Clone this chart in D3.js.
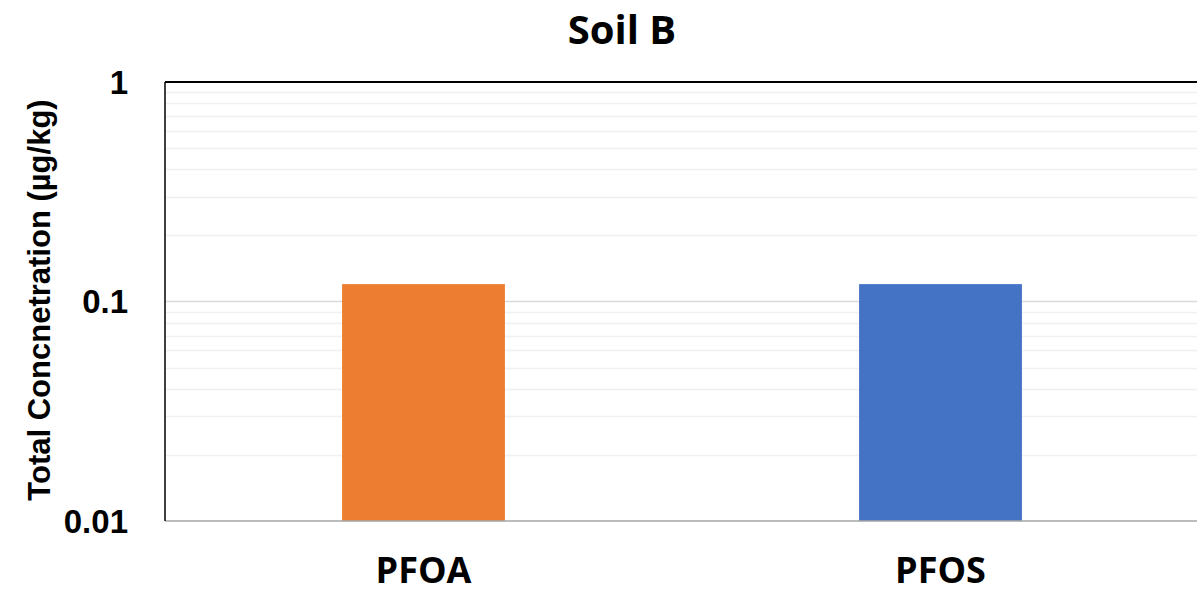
<!DOCTYPE html>
<html>
<head>
<meta charset="utf-8">
<script src="https://cdn.jsdelivr.net/npm/d3@7"></script>
<style>
  body { margin: 0; background: #fff; }
  svg { display: block; }
</style>
</head>
<body>
<div id="vis"></div>
<script>
// chart data
var categories = ['PFOA', 'PFOS'];
var concValues = [0.12, 0.12];
var barColors = ['#ED7D31', '#4472C4'];
var yTicks = [0.01, 0.1, 1];
var yTickLabels = ['0.01', '0.1', '1'];

var width = 1197, height = 593;
var margin = {top: 82, right: -2, bottom: 72, left: 165};
var innerW = width - margin.left - margin.right,
    innerH = height - margin.top - margin.bottom;

var svg = d3.select('#vis').append('svg')
    .attr('width', width)
    .attr('height', height);

var g = svg.append('g')
    .attr('transform', 'translate(' + margin.left + ',' + margin.top + ')');

var xScale = d3.scaleBand().domain(categories).range([0, innerW])
    .paddingInner(0.685).paddingOuter(0.3425);
var yScale = d3.scaleLog().domain([0.01, 1]).range([innerH, 0]);

// minor gridlines (2..9 in each decade)
var minor = [];
[0.01, 0.1].forEach(function(dec){
    for (var k = 2; k <= 9; k++) minor.push(dec * k);
});
g.selectAll('.minor').data(minor).enter().append('line')
    .attr('class', 'minor')
    .attr('x1', 0).attr('x2', innerW)
    .attr('y1', function(d){ return Math.round(yScale(d)) + 0.5; })
    .attr('y2', function(d){ return Math.round(yScale(d)) + 0.5; })
    .attr('stroke', '#f0f0f0').attr('stroke-width', 1.5);

// major gridline
g.append('line')
    .attr('x1', 0).attr('x2', innerW)
    .attr('y1', yScale(0.1)).attr('y2', yScale(0.1))
    .attr('stroke', '#d9d9d9').attr('stroke-width', 1.5);

// bars
g.selectAll('.bar').data(categories).enter().append('rect')
    .attr('class', 'bar')
    .attr('x', function(d){ return xScale(d); })
    .attr('width', xScale.bandwidth())
    .attr('y', function(d, i){ return yScale(concValues[i]); })
    .attr('height', function(d, i){ return innerH - yScale(concValues[i]); })
    .attr('fill', function(d, i){ return barColors[i]; });

// bottom axis line (gray)
g.append('line')
    .attr('x1', 0).attr('x2', innerW)
    .attr('y1', innerH).attr('y2', innerH)
    .attr('stroke', '#a6a6a6').attr('stroke-width', 1.5);

// top and left border
g.append('line')
    .attr('x1', 0).attr('x2', innerW).attr('y1', 0).attr('y2', 0)
    .attr('stroke', '#000').attr('stroke-width', 2);
g.append('line')
    .attr('x1', 0).attr('x2', 0).attr('y1', 0).attr('y2', innerH)
    .attr('stroke', '#000').attr('stroke-width', 1.5);

// y tick labels
g.selectAll('.ytick').data(yTicks).enter().append('text')
    .attr('class', 'ytick')
    .attr('x', -37)
    .attr('y', function(d){ return yScale(d); })
    .attr('dy', '0.35em')
    .attr('text-anchor', 'end')
    .style('font-family', '"Liberation Sans", Arial, sans-serif')
    .style('font-weight', 'bold')
    .style('font-size', '33px')
    .text(function(d, i){ return yTickLabels[i]; });

// x category labels
g.selectAll('.xlab').data(categories).enter().append('text')
    .attr('class', 'xlab')
    .attr('x', function(d){ return xScale(d) + xScale.bandwidth() / 2; })
    .attr('y', innerH + 62)
    .attr('text-anchor', 'middle')
    .style('font-family', '"Open Sans", sans-serif')
    .style('font-weight', 'bold')
    .style('font-size', '36px')
    .text(function(d){ return d; });

// y axis title
svg.append('text')
    .attr('transform', 'translate(50,300) rotate(-90)')
    .attr('text-anchor', 'middle')
    .style('font-family', '"Liberation Sans", Arial, sans-serif')
    .style('font-weight', 'bold')
    .style('font-size', '31px')
    .text('Total Concnetration (µg/kg)');

// chart title
svg.append('text')
    .attr('x', 622).attr('y', 44)
    .attr('text-anchor', 'middle')
    .style('font-family', '"Open Sans", sans-serif')
    .style('font-weight', 'bold')
    .style('font-size', '40px')
    .text('Soil B');
</script>
</body>
</html>
